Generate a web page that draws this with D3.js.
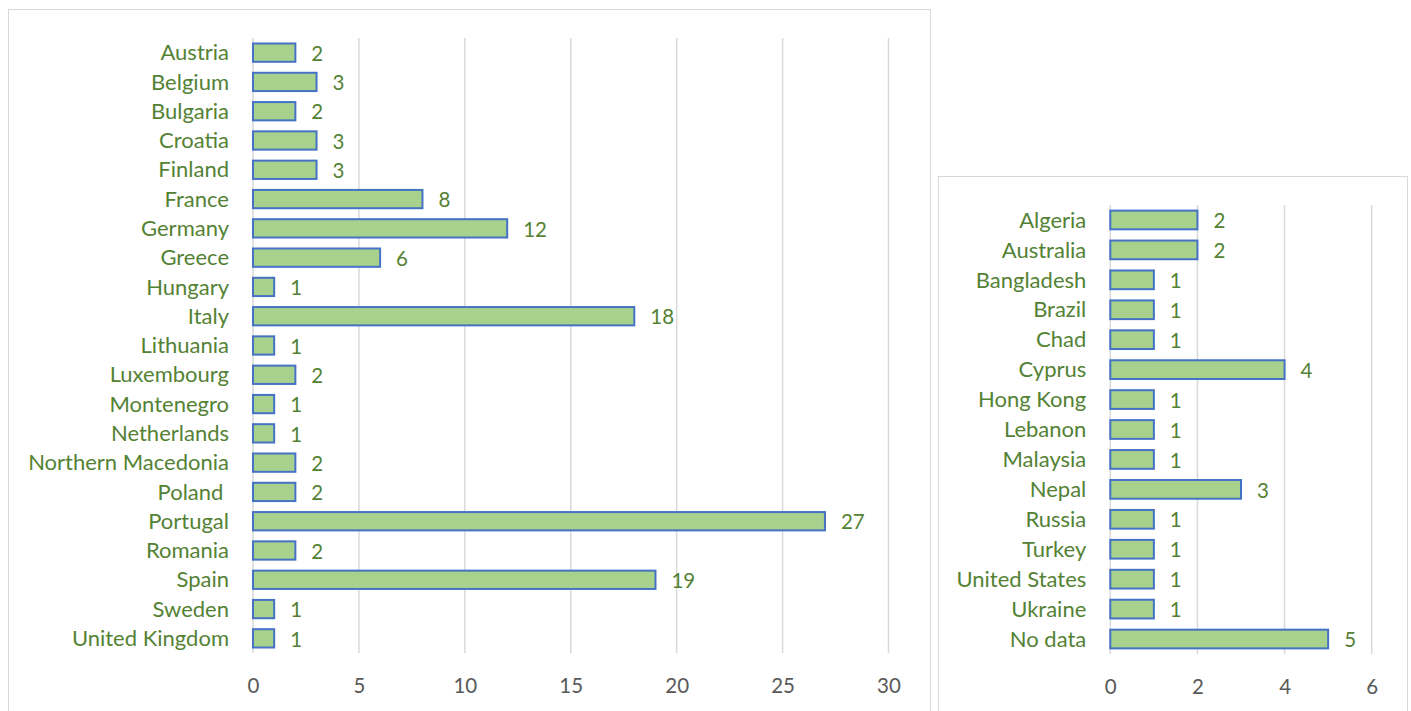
<!DOCTYPE html>
<html>
<head>
<meta charset="utf-8">
<script src="https://cdn.jsdelivr.net/npm/d3@7"></script>
<style>
  html, body { margin: 0; padding: 0; background: #fff; }
  svg { display: block; }
  text { font-family: Lato, "Open Sans", sans-serif; white-space: pre; }
</style>
</head>
<body>
<svg id="chart" width="1411" height="711"></svg>
<script>
// European countries
const europeCountries = ["Austria", "Belgium", "Bulgaria", "Croatia", "Finland", "France", "Germany",
  "Greece", "Hungary", "Italy", "Lithuania", "Luxembourg", "Montenegro", "Netherlands",
  "Northern Macedonia", "Poland ", "Portugal", "Romania", "Spain", "Sweden", "United Kingdom"];
const europeValues = [2, 3, 2, 3, 3, 8, 12, 6, 1, 18, 1, 2, 1, 1, 2, 2, 27, 2, 19, 1, 1];
const europeTicks = [0, 5, 10, 15, 20, 25, 30];

// Other countries
const otherCountries = ["Algeria", "Australia", "Bangladesh", "Brazil", "Chad", "Cyprus", "Hong Kong",
  "Lebanon", "Malaysia", "Nepal", "Russia", "Turkey", "United States", "Ukraine", "No data"];
const otherValues = [2, 2, 1, 1, 1, 4, 1, 1, 1, 3, 1, 1, 1, 1, 5];
const otherTicks = [0, 2, 4, 6];

const svg = d3.select("#chart");

const GRID = "#D9D9D9", FILL = "#A9D18E", STROKE = "#4472C4", LABEL = "#548235", TICK = "#595959";

function panel(cfg) {
  const { box, x0, x1, y0, y1, cats, vals, ticks, max } = cfg;
  // panel frame
  svg.append("rect")
    .attr("x", box.x + 0.5).attr("y", box.y + 0.5)
    .attr("width", box.w).attr("height", box.h)
    .attr("fill", "#fff").attr("stroke", GRID).attr("stroke-width", 1);

  const x = d3.scaleLinear().domain([0, max]).range([x0, x1]);
  const y = d3.scaleBand().domain(cats).range([y0, y1]).paddingInner(0.375).paddingOuter(0.1875);

  const g = svg.append("g");

  // vertical gridlines
  g.selectAll("line.grid").data(ticks).join("line")
    .attr("class", "grid")
    .attr("x1", d => x(d)).attr("x2", d => x(d))
    .attr("y1", y0).attr("y2", y1)
    .attr("stroke", GRID).attr("stroke-width", 1.5);

  // tick labels along the bottom
  const axis = d3.axisBottom(x).tickValues(ticks).tickSize(0).tickPadding(0).tickFormat(d3.format("d"));
  const ag = g.append("g").attr("transform", `translate(0,${y1 + 33})`).call(axis);
  ag.select(".domain").remove();
  ag.selectAll("text")
    .attr("dy", "0.35em")
    .attr("fill", TICK)
    .style("font-size", "20.5px")
    .style("font-family", "Lato, 'Open Sans', sans-serif");

  // bars
  g.selectAll("rect.bar").data(vals).join("rect")
    .attr("class", "bar")
    .attr("x", x(0))
    .attr("y", (d, i) => y(cats[i]))
    .attr("width", d => x(d) - x(0))
    .attr("height", y.bandwidth())
    .attr("fill", FILL).attr("stroke", STROKE).attr("stroke-width", 2);

  // category labels
  g.selectAll("text.cat").data(cats).join("text")
    .attr("class", "cat")
    .attr("x", x0 - 24)
    .attr("y", d => y(d) + y.bandwidth() / 2)
    .attr("dy", "0.35em")
    .attr("text-anchor", "end")
    .attr("fill", LABEL)
    .style("font-size", "22px")
    .text(d => d);

  // value labels
  g.selectAll("text.val").data(vals).join("text")
    .attr("class", "val")
    .attr("x", d => x(d) + 16)
    .attr("y", (d, i) => y(cats[i]) + y.bandwidth() / 2 + 1)
    .attr("dy", "0.35em")
    .attr("fill", LABEL)
    .style("font-size", "20.5px")
    .text(d => d);
}

panel({
  box: { x: 8, y: 9, w: 922, h: 720 },
  x0: 253, x1: 888.5, y0: 38, y1: 653,
  cats: europeCountries, vals: europeValues, ticks: europeTicks, max: 30
});

panel({
  box: { x: 938, y: 176, w: 469, h: 560 },
  x0: 1110.3, x1: 1371.7, y0: 205, y1: 654,
  cats: otherCountries, vals: otherValues, ticks: otherTicks, max: 6
});
</script>
</body>
</html>
